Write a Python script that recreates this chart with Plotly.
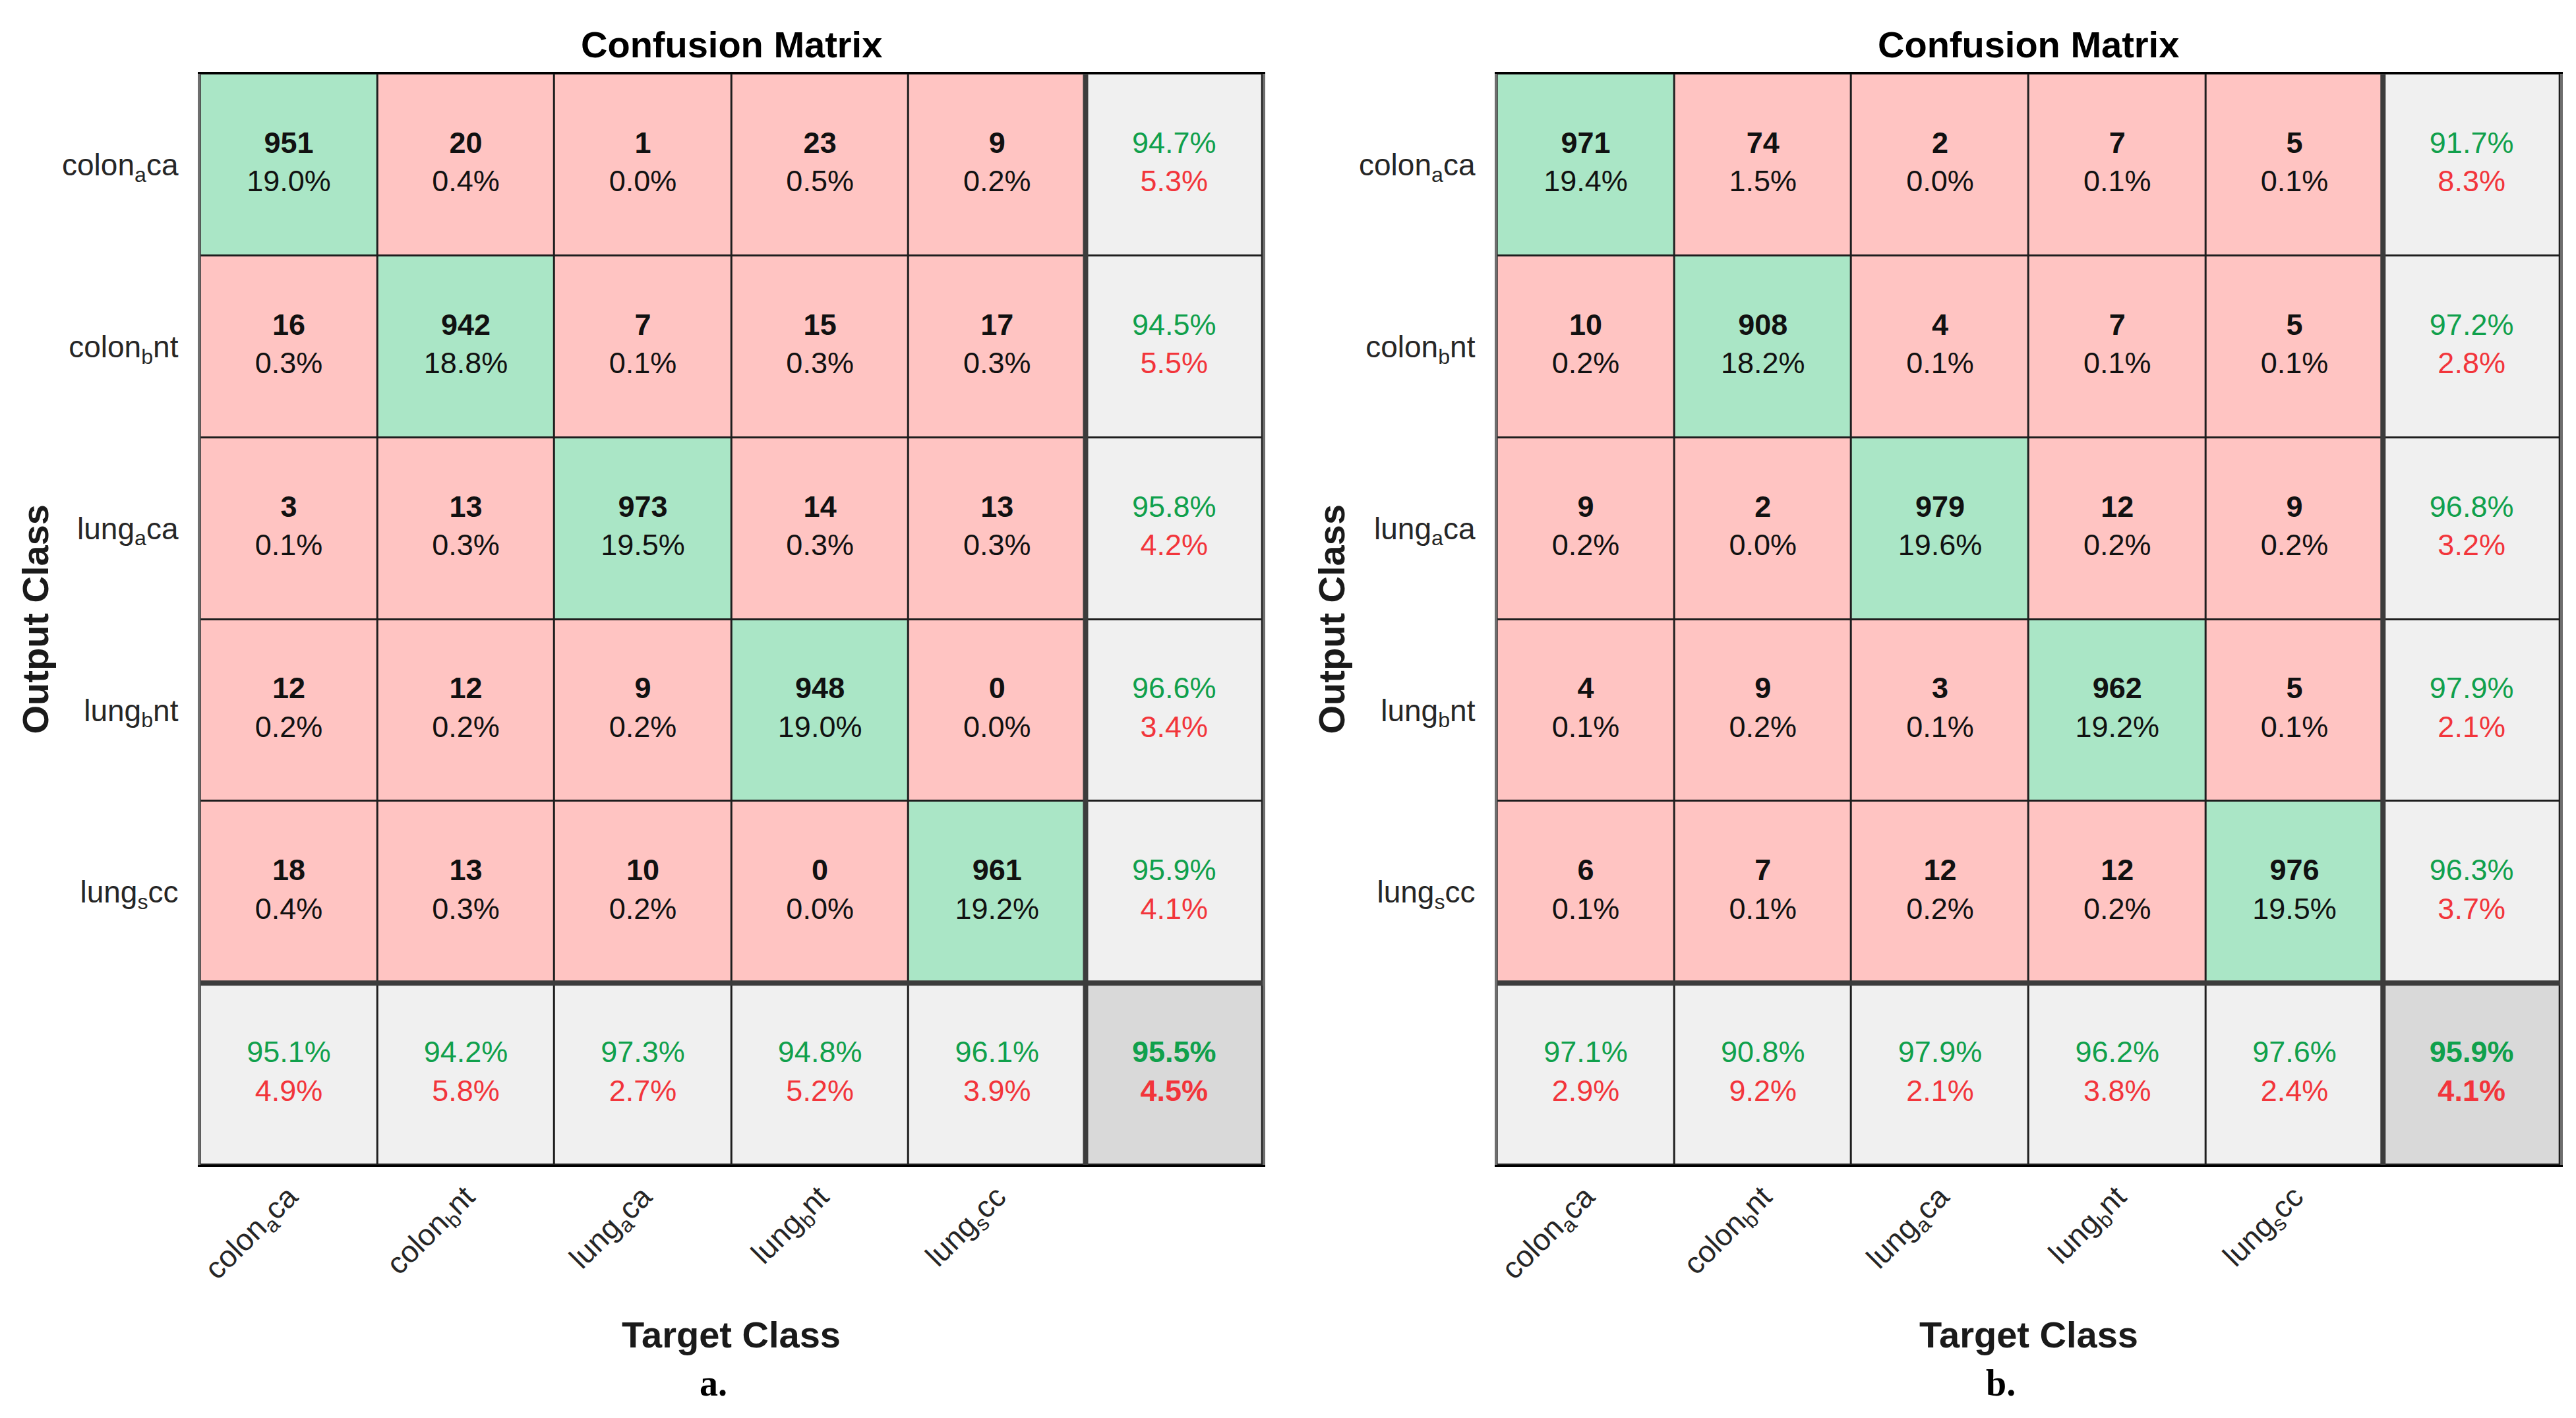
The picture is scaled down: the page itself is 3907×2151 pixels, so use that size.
import plotly.graph_objects as go

# ---------------- data ----------------
classes = ["colon<sub>a</sub>ca", "colon<sub>b</sub>nt", "lung<sub>a</sub>ca",
           "lung<sub>b</sub>nt", "lung<sub>s</sub>cc"]

counts_a = [
    [951, 20, 1, 23, 9],
    [16, 942, 7, 15, 17],
    [3, 13, 973, 14, 13],
    [12, 12, 9, 948, 0],
    [18, 13, 10, 0, 961],
]
counts_b = [
    [971, 74, 2, 7, 5],
    [10, 908, 4, 7, 5],
    [9, 2, 979, 12, 9],
    [4, 9, 3, 962, 5],
    [6, 7, 12, 12, 976],
]
panel_tags = ["a.", "b."]
panel_title = "Confusion Matrix"
x_title = "Target Class"
y_title = "Output Class"

# ---------------- style ----------------
FONT = "Liberation Sans, Arial, Helvetica, sans-serif"
GREEN_CELL = "#AAE6C6"
RED_CELL = "#FFC4C2"
GRAY_CELL = "#F0F0F0"
DARK_CELL = "#D9D9D9"
GREEN_TXT = "#10A04C"
RED_TXT = "#F2353B"

PAGE_W, PAGE_H = 3907, 2151
OFF = 8                      # default body margin of the html page
W, H = PAGE_W - 2 * OFF, PAGE_H - 2 * OFF


def px(xpage):
    return (xpage - OFF) / W


def py(ypage):
    return 1 - (ypage - OFF) / H


x_domains = [[px(300), px(1913)], [px(2269), px(3883)]]
y_domain = [py(1767), py(112)]
ylabel_x = [px(50), px(2018)]
tag_x = [px(1079), px(3034)]

fig = go.Figure()
n = len(classes)

for p, counts in enumerate([counts_a, counts_b]):
    xa = "x" if p == 0 else "x2"
    ya = "y" if p == 0 else "y2"
    total = sum(sum(r) for r in counts)
    row_sum = [sum(r) for r in counts]
    col_sum = [sum(counts[i][j] for i in range(n)) for j in range(n)]
    correct = sum(counts[i][i] for i in range(n))

    # cell colour codes
    code = []
    for i in range(n + 1):
        row = []
        for j in range(n + 1):
            if i == n and j == n:
                row.append(3)
            elif i == n or j == n:
                row.append(2)
            elif i == j:
                row.append(1)
            else:
                row.append(0)
        code.append(row)

    fig.add_trace(go.Heatmap(
        z=code, x=list(range(n + 1)), y=list(range(n + 1)),
        zmin=0, zmax=3, showscale=False, xgap=3, ygap=3,
        colorscale=[[0, RED_CELL], [0.25, RED_CELL], [0.25, GREEN_CELL], [0.5, GREEN_CELL],
                    [0.5, GRAY_CELL], [0.75, GRAY_CELL], [0.75, DARK_CELL], [1, DARK_CELL]],
        hoverinfo="skip", xaxis=xa, yaxis=ya))

    xs, ys, texts = [], [], []
    for i in range(n + 1):
        for j in range(n + 1):
            xs.append(j)
            ys.append(i)
            if i < n and j < n:
                c = counts[i][j]
                texts.append(f"<b>{c}</b><br>{100 * c / total:.1f}%")
            else:
                if i == n and j == n:
                    acc = 100 * correct / total
                    texts.append(f'<span style="color:{GREEN_TXT}"><b>{acc:.1f}%</b></span><br>'
                                 f'<span style="color:{RED_TXT}"><b>{100 - acc:.1f}%</b></span>')
                else:
                    if j == n:
                        acc = 100 * counts[i][i] / row_sum[i]
                    else:
                        acc = 100 * counts[j][j] / col_sum[j]
                    texts.append(f'<span style="color:{GREEN_TXT}">{acc:.1f}%</span><br>'
                                 f'<span style="color:{RED_TXT}">{100 - acc:.1f}%</span>')
    fig.add_trace(go.Scatter(
        x=xs, y=ys, text=texts, mode="text", textposition="middle center",
        textfont=dict(family=FONT, size=45, color="#111111"),
        hoverinfo="skip", showlegend=False, xaxis=xa, yaxis=ya))

    # thick separators of the summary row / column
    fig.add_shape(type="line", xref=xa, yref=ya, x0=n - 0.5, x1=n - 0.5, y0=-0.5, y1=n + 0.5,
                  line=dict(color="#3C3C3C", width=8))
    fig.add_shape(type="line", xref=xa, yref=ya, x0=-0.5, x1=n + 0.5, y0=n - 0.5, y1=n - 0.5,
                  line=dict(color="#3C3C3C", width=8))

    axis_x = dict(domain=x_domains[p], range=[-0.5, n + 0.5], tickvals=list(range(n)),
                  ticktext=classes, tickangle=-45, ticks="", showgrid=False, zeroline=False,
                  showline=True, mirror=True, linecolor="black", linewidth=3,
                  tickfont=dict(family=FONT, size=46, color="#262626"),
                  anchor=ya, fixedrange=True)
    axis_y = dict(domain=y_domain, range=[n + 0.5, -0.5], tickvals=list(range(n)),
                  ticktext=classes, ticks="", showgrid=False, zeroline=False,
                  showline=True, mirror=True, linecolor="#6E6E6E", linewidth=4,
                  ticklabelstandoff=20,
                  tickfont=dict(family=FONT, size=46, color="#262626"),
                  anchor=xa, fixedrange=True)
    if p == 0:
        fig.update_layout(xaxis=axis_x, yaxis=axis_y)
    else:
        fig.update_layout(xaxis2=axis_x, yaxis2=axis_y)

    xdom = "x domain" if p == 0 else "x2 domain"
    ydom = "y domain" if p == 0 else "y2 domain"
    fig.add_annotation(text=f"<b>{panel_title}</b>", xref=xdom, yref="paper", x=0.5,
                       y=py(67), showarrow=False, xanchor="center", yanchor="middle",
                       font=dict(family=FONT, size=56, color="black"))
    fig.add_annotation(text=f"<b>{x_title}</b>", xref=xdom, yref="paper", x=0.5,
                       y=py(2024), showarrow=False, xanchor="center", yanchor="middle",
                       font=dict(family=FONT, size=56, color="#1A1A1A"))
    fig.add_annotation(text=f"<b>{y_title}</b>", xref="paper", yref=ydom, x=ylabel_x[p],
                       y=0.5, showarrow=False, xanchor="center", yanchor="middle",
                       textangle=-90, font=dict(family=FONT, size=56, color="#1A1A1A"))
    fig.add_annotation(text=f"<b>{panel_tags[p]}</b>", xref="paper", yref="paper",
                       x=tag_x[p], y=py(2098), showarrow=False, xanchor="center",
                       yanchor="middle",
                       font=dict(family="Liberation Serif, Times New Roman, serif", size=56,
                                 color="black"))

fig.update_layout(width=W, height=H, autosize=False,
                  margin=dict(l=0, r=0, t=0, b=0, pad=0),
                  paper_bgcolor="white", plot_bgcolor="#1E1E1E",
                  showlegend=False, hovermode=False)

fig.write_html("out.html", config={"displayModeBar": False})
